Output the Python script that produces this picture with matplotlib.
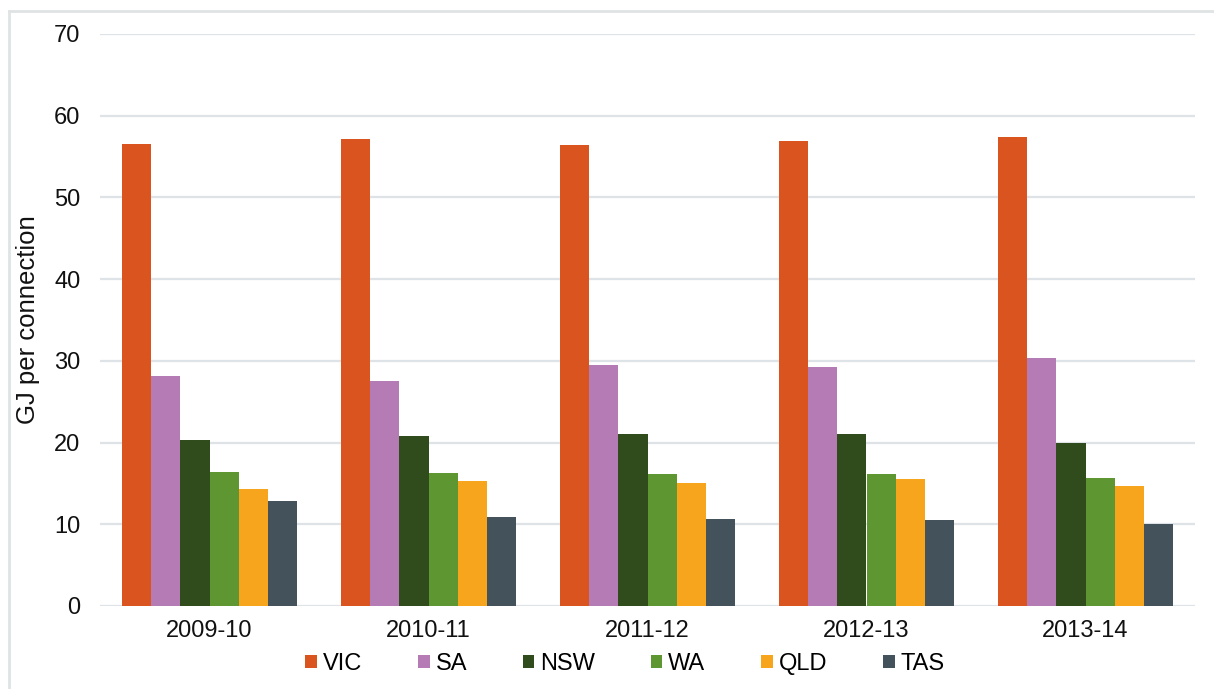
import matplotlib
matplotlib.use('Agg')
import matplotlib.pyplot as plt
from matplotlib.lines import Line2D
import numpy as np

plt.rcParams['font.family'] = ['Liberation Sans', 'DejaVu Sans']

# data
years = ['2009-10', '2010-11', '2011-12', '2012-13', '2013-14']
states = ['VIC', 'SA', 'NSW', 'WA', 'QLD', 'TAS']
vic = [56.5, 57.2, 56.4, 56.9, 57.4]
sa = [28.1, 27.5, 29.5, 29.2, 30.4]
nsw = [20.3, 20.8, 21.0, 21.1, 19.9]
wa = [16.4, 16.3, 16.1, 16.1, 15.7]
qld = [14.3, 15.3, 15.1, 15.5, 14.7]
tas = [12.8, 10.9, 10.6, 10.5, 10.0]
series = [vic, sa, nsw, wa, qld, tas]
colours = ['#d9541e', '#b57bb4', '#304b1c', '#5e9732', '#f7a51d', '#43525b']

fig = plt.figure(figsize=(12.14, 6.89), dpi=100)
ax = fig.add_axes([100 / 1214, 1 - 606 / 689, 1095 / 1214, 572 / 689])

x = np.arange(len(years))
n = len(series)
width = 0.795 / n
for i, (vals, col, name) in enumerate(zip(series, colours, states)):
    offset = (i - (n - 1) / 2) * width
    ax.bar(x + offset, vals, width, color=col, label=name, linewidth=0, zorder=3)

ax.set_xlim(-0.5, len(years) - 0.5)
ax.set_ylim(0, 70)
ax.set_yticks(np.arange(0, 71, 10))
ax.set_xticks(x)
ax.set_xticklabels(years)
ax.tick_params(axis='both', length=0, labelsize=17, colors='#111111')
ax.tick_params(axis='y', pad=14)
ax.tick_params(axis='x', pad=10)
ax.grid(axis='y', color='#dde3e6', linewidth=1.6, zorder=0)
for s in ax.spines.values():
    s.set_visible(False)

ax.set_ylabel('GJ per connection', fontsize=18.5, color='#111111')
ax.yaxis.set_label_coords(-60 / 1095, 0.5)

fig.legend(loc='center', bbox_to_anchor=(625 / 1214, 1 - 664 / 689), ncol=6,
           frameon=False, fontsize=17, handlelength=0.5, handleheight=0.5,
           handletextpad=0.25, columnspacing=2.35, borderaxespad=0)

# light frame on top and left edges, as in the source
fig.add_artist(Line2D([9 / 1214, 1], [1 - 11 / 689, 1 - 11 / 689],
                      transform=fig.transFigure, color='#dfe3e3', linewidth=2))
fig.add_artist(Line2D([9 / 1214, 9 / 1214], [0, 1 - 11 / 689],
                      transform=fig.transFigure, color='#dfe3e3', linewidth=2))

fig.savefig('out.png', dpi=100, facecolor='white')
